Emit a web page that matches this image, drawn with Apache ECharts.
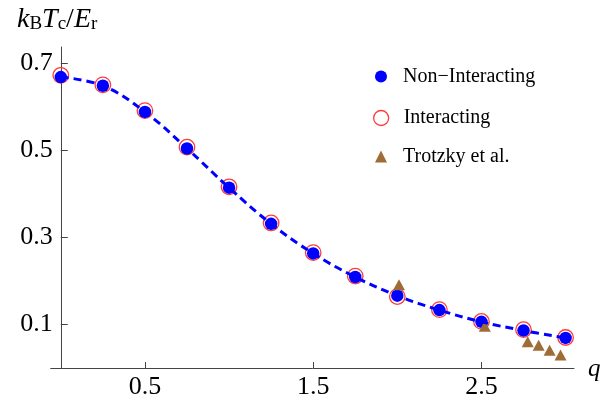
<!DOCTYPE html>
<html>
<head>
<meta charset="utf-8">
<script src="https://cdn.jsdelivr.net/npm/echarts@6/dist/echarts.min.js"></script>
<style>
  html, body { margin: 0; padding: 0; background: #fff; }
  #chart { width: 613px; height: 400px; }
</style>
</head>
<body>
<div id="chart"></div>
<script>
// Critical temperature k_B T_c / E_r versus lattice parameter q
const qValues        = [0, 0.25, 0.5, 0.75, 1.0, 1.25, 1.5, 1.75, 2.0, 2.25, 2.5, 2.75, 3.0];
const nonInteracting = [0.668, 0.648, 0.588, 0.504, 0.414, 0.331, 0.263, 0.209, 0.166, 0.133, 0.106, 0.086, 0.069];
const interacting    = [0.672, 0.650, 0.591, 0.507, 0.416, 0.333, 0.265, 0.211, 0.164, 0.134, 0.107, 0.088, 0.070];
const trotzkyQ       = [2.01, 2.52, 2.775, 2.84, 2.905, 2.97];
const trotzkyT       = [0.191, 0.096, 0.060, 0.052, 0.041, 0.030];
const xTicks         = [0.5, 1.5, 2.5];
const yTicks         = [0.1, 0.3, 0.5, 0.7];

const SERIF = '"Liberation Serif", "DejaVu Serif", serif';
const AXIS_COLOR = '#444';

const pairs = (xs, ys) => xs.map((x, i) => [x, ys[i]]);

const chart = echarts.init(document.getElementById('chart'), null, { renderer: 'canvas' });

chart.setOption({
  animation: false,
  backgroundColor: '#fff',
  grid: { left: 50.7, right: 39, top: 47, bottom: 29.6 },
  xAxis: {
    type: 'value',
    min: -0.06,
    max: 3.05,
    splitLine: { show: false },
    axisLine: { show: true, lineStyle: { color: AXIS_COLOR, width: 1 } },
    axisTick: { show: true, inside: true, length: 6, customValues: xTicks, lineStyle: { color: AXIS_COLOR } },
    axisLabel: {
      customValues: xTicks,
      formatter: v => v.toFixed(1),
      color: '#000', fontFamily: SERIF, fontSize: 26, margin: 6
    }
  },
  yAxis: {
    type: 'value',
    min: 0,
    max: 0.737,
    splitLine: { show: false },
    axisLine: { show: true, onZero: true, lineStyle: { color: AXIS_COLOR, width: 1 } },
    axisTick: { show: true, inside: true, length: 7, customValues: yTicks, lineStyle: { color: AXIS_COLOR } },
    axisLabel: {
      customValues: yTicks,
      formatter: v => v.toFixed(1),
      color: '#000', fontFamily: SERIF, fontSize: 26, margin: -2
    }
  },
  legend: [
    {
      orient: 'vertical', left: 375, top: 66.5, padding: 0,
      itemWidth: 12, itemHeight: 12,
      data: [{ name: 'Non\u2212Interacting', icon: 'circle', itemStyle: { color: '#0000ff', opacity: 1 } }],
      textStyle: { fontFamily: SERIF, fontSize: 20, color: '#000', padding: [0, 0, 0, 11] }
    },
    {
      orient: 'vertical', left: 373, top: 108, padding: 0,
      itemWidth: 15, itemHeight: 15,
      data: [{ name: 'Interacting', icon: 'circle',
               itemStyle: { color: 'rgba(0,0,0,0)', borderColor: '#ff3b3b', borderWidth: 1.3, opacity: 1 } }],
      textStyle: { fontFamily: SERIF, fontSize: 20, color: '#000', padding: [0, 0, 0, 10] }
    },
    {
      orient: 'vertical', left: 375, top: 146.5, padding: 0,
      itemWidth: 12, itemHeight: 12,
      data: [{ name: 'Trotzky et al.', icon: 'triangle', itemStyle: { color: '#9e6c35', opacity: 1 } }],
      textStyle: { fontFamily: SERIF, fontSize: 20, color: '#000', padding: [0, 0, 0, 11] }
    }
  ],
  series: [
    {
      name: 'curve',
      type: 'line',
      data: pairs(qValues, nonInteracting),
      smooth: 0.4,
      showSymbol: false,
      silent: true,
      lineStyle: { color: '#0000ff', width: 3, type: [8, 5] }
    },
    {
      name: 'Interacting',
      type: 'scatter',
      data: pairs(qValues, interacting),
      symbol: 'circle',
      symbolSize: 15.5,
      itemStyle: { color: 'rgba(0,0,0,0)', borderColor: '#ff3b3b', borderWidth: 1.3, opacity: 1 }
    },
    {
      name: 'Non\u2212Interacting',
      type: 'scatter',
      data: pairs(qValues, nonInteracting),
      symbol: 'circle',
      symbolSize: 12.5,
      itemStyle: { color: '#0000ff', opacity: 1 }
    },
    {
      name: 'Trotzky et al.',
      type: 'scatter',
      data: pairs(trotzkyQ, trotzkyT),
      symbol: 'triangle',
      symbolSize: [12, 11],
      itemStyle: { color: '#9e6c35', opacity: 1 }
    }
  ],
  graphic: [
    {
      type: 'text',
      left: 17, top: 6,
      style: {
        text: '{i|k}{s|B}{i|T}{s|c}{r|/}{i|E}{s|r}',
        rich: {
          i: { fontFamily: SERIF, fontStyle: 'italic', fontSize: 28, lineHeight: 33, fill: '#000', verticalAlign: 'bottom' },
          r: { fontFamily: SERIF, fontSize: 28, lineHeight: 33, fill: '#000', verticalAlign: 'bottom' },
          s: { fontFamily: SERIF, fontSize: 19, lineHeight: 21, fill: '#000', verticalAlign: 'bottom' }
        }
      }
    },
    {
      type: 'text',
      left: 588, top: 357,
      style: { text: 'q', font: 'italic 25px ' + SERIF, fill: '#000' }
    }
  ]
});
</script>
</body>
</html>
